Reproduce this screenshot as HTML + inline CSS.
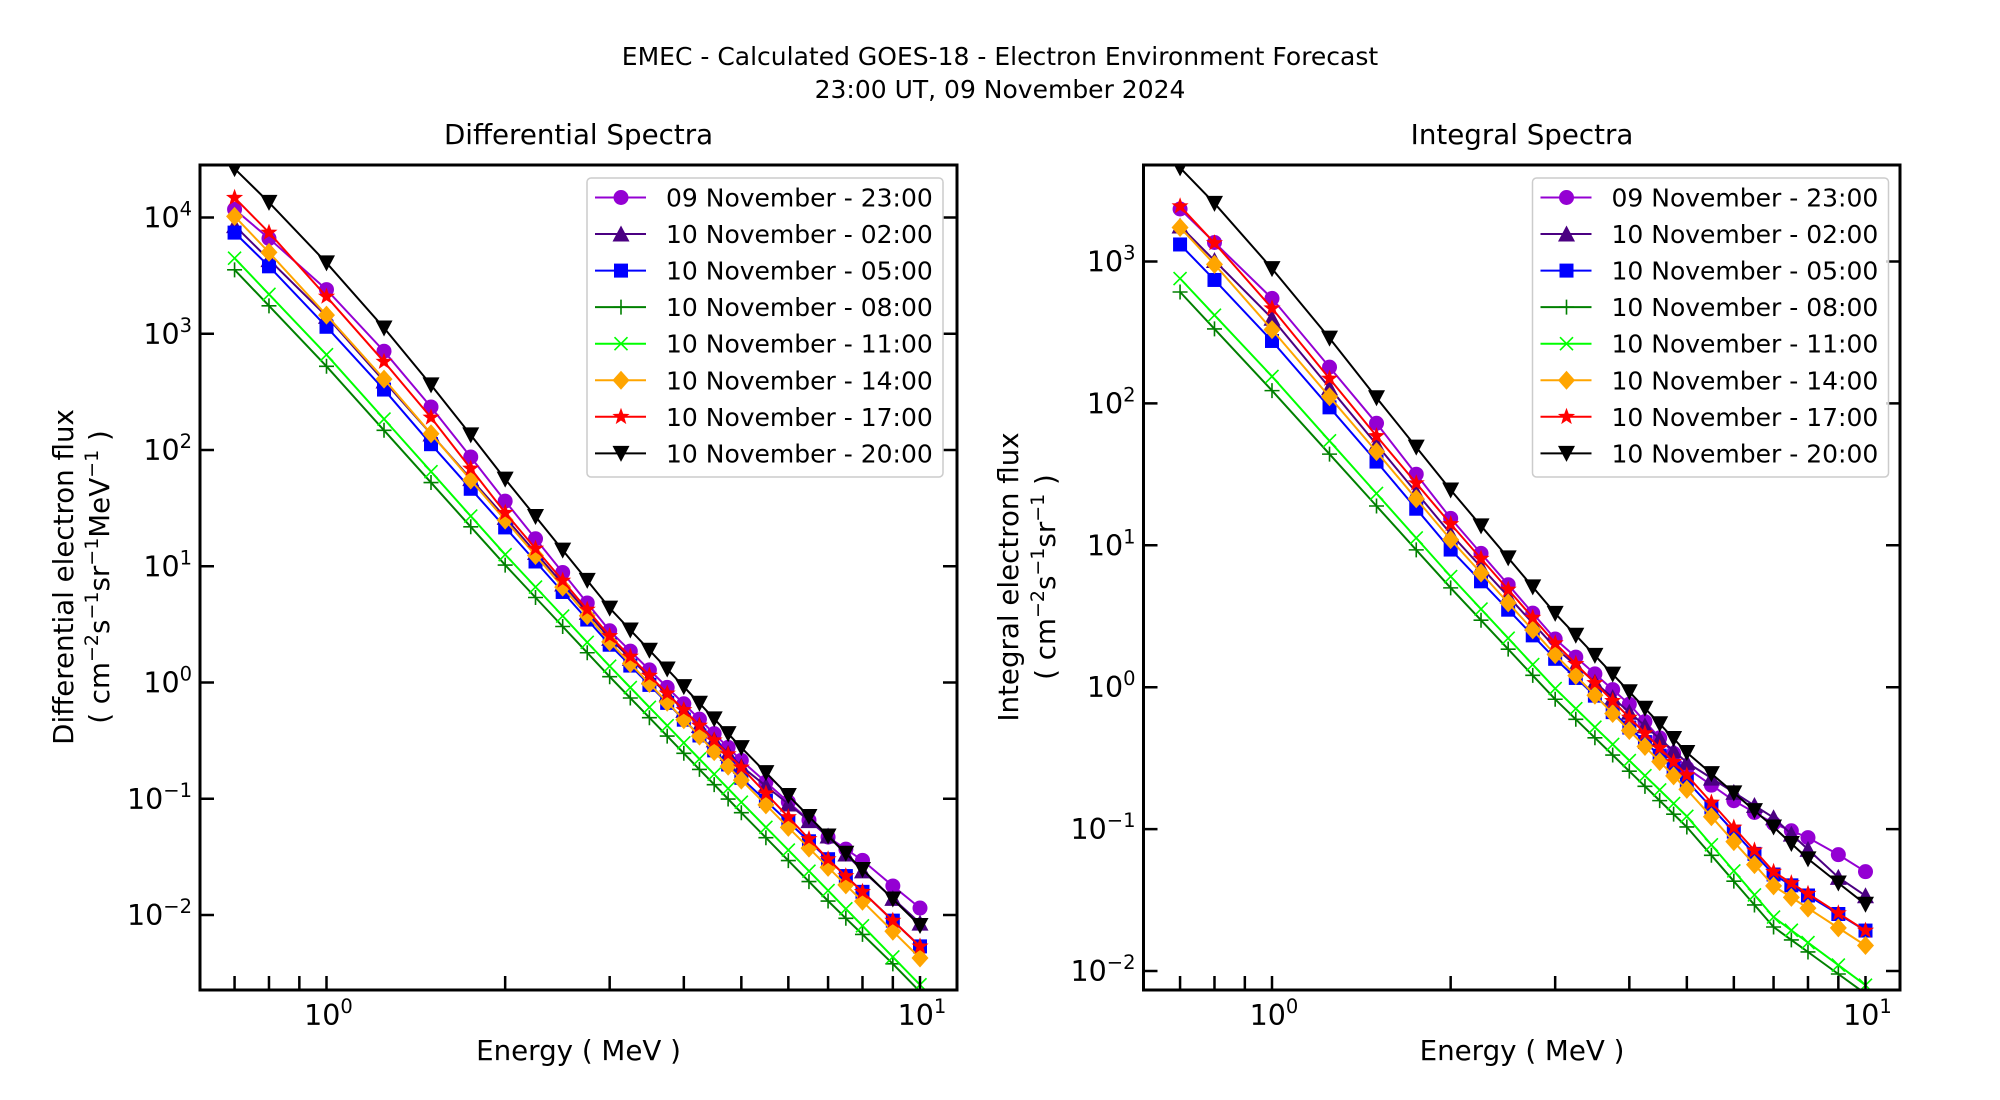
<!DOCTYPE html>
<html><head><meta charset="utf-8"><style>
html,body{margin:0;padding:0;background:#fff;}
svg{display:block;}
text{font-family:"DejaVu Sans","Liberation Sans",sans-serif;fill:#000;}
</style></head><body>
<svg id="s" width="2000" height="1100" viewBox="0 0 2000 1100" xmlns="http://www.w3.org/2000/svg">
<text x="1000" y="65" font-size="25" text-anchor="middle">EMEC - Calculated GOES-18 - Electron Environment Forecast</text>
<text x="1000" y="98" font-size="25" text-anchor="middle">23:00 UT, 09 November 2024</text>
<text x="578.5" y="144" font-size="27.7" text-anchor="middle">Differential Spectra</text>
<text x="1522" y="144" font-size="27.7" text-anchor="middle">Integral Spectra</text>
<text x="578.5" y="1060" font-size="27.7" text-anchor="middle">Energy ( MeV )</text>
<text x="1522" y="1060" font-size="27.7" text-anchor="middle">Energy ( MeV )</text>
<text transform="translate(73,577) rotate(-90)" font-size="27.7" text-anchor="middle">Differential electron flux</text>
<text transform="translate(109,577) rotate(-90)" font-size="27.7" text-anchor="middle">( cm<tspan font-size="19" dy="-11">−2</tspan><tspan dy="11">s</tspan><tspan font-size="19" dy="-11">−1</tspan><tspan dy="11">sr</tspan><tspan font-size="19" dy="-11">−1</tspan><tspan dy="11">MeV</tspan><tspan font-size="19" dy="-11">−1</tspan><tspan dy="11"> )</tspan></text>
<text transform="translate(1018,577) rotate(-90)" font-size="27.7" text-anchor="middle">Integral electron flux</text>
<text transform="translate(1055,577) rotate(-90)" font-size="27.7" text-anchor="middle">( cm<tspan font-size="19" dy="-11">−2</tspan><tspan dy="11">s</tspan><tspan font-size="19" dy="-11">−1</tspan><tspan dy="11">sr</tspan><tspan font-size="19" dy="-11">−1</tspan><tspan dy="11"> )</tspan></text>
</svg>
<script>
var NS="http://www.w3.org/2000/svg",S=document.getElementById("s");
function el(t,a,p){var e=document.createElementNS(NS,t);for(var k in a)e.setAttribute(k,a[k]);(p||S).appendChild(e);return e;}
var E=[0.7,0.8,1,1.25,1.5,1.75,2,2.25,2.5,2.75,3,3.25,3.5,3.75,4,4.25,4.5,4.75,5,5.5,6,6.5,7,7.5,8,9,10];
var cols=["#9400D3","#4B0082","#0000FF","#008000","#00FF00","#FFA500","#FF0000","#000000"];
var mk=["o","^","s","+","x","D","*","v"];
var names=["09 November - 23:00","10 November - 02:00","10 November - 05:00","10 November - 08:00","10 November - 11:00","10 November - 14:00","10 November - 17:00","10 November - 20:00"];
var D=[
[[.7,4.07],[.8,3.82],[1,3.38],[1.25,2.85],[1.5,2.37],[1.75,1.94],[2,1.56],[3,.445],[5,-.67],[7,-1.33],[8,-1.53],[9,-1.75],[10,-1.94]],
[[.7,3.93],[1,3.15],[2,1.42],[3,.38],[5,-.72],[7,-1.32],[8,-1.62],[10,-2.07]],
[[.7,3.87],[.8,3.58],[1,3.06],[1.25,2.52],[1.5,2.05],[3,.325],[5,-.82],[7,-1.52],[10,-2.27]],
[[.7,3.55],[.8,3.24],[1,2.72],[1.5,1.72],[2,1.01],[3,.05],[5,-1.12],[7,-1.88],[9,-2.42],[10,-2.66]],
[[.7,3.65],[1,2.82],[2,1.10],[3,.14],[5,-1.03],[7,-1.79],[10,-2.60]],
[[.7,4.01],[.8,3.70],[1,3.16],[1.25,2.61],[1.5,2.14],[3,.35],[5,-.84],[7,-1.59],[10,-2.37]],
[[.7,4.17],[.8,3.87],[1,3.32],[1.25,2.76],[1.5,2.28],[2,1.46],[3,.40],[5,-.73],[7,-1.52],[10,-2.27]],
[[.7,4.42],[.8,4.13],[1,3.61],[1.25,3.05],[1.5,2.56],[1.75,2.13],[2,1.75],[3,.64],[5,-.56],[7,-1.32],[10,-2.09]]];
var I=[
[[.7,3.37],[1,2.74],[1.5,1.86],[2,1.19],[3,.34],[4,-.12],[5,-.57],[6,-.80],[7,-.96],[8,-1.06],[9,-1.18],[10,-1.30]],
[[.7,3.25],[1,2.6],[2,1.08],[3,.28],[5,-.53],[7,-.92],[9,-1.34],[10,-1.47]],
[[.7,3.12],[.8,2.87],[1,2.44],[1.5,1.59],[2,.97],[3,.2],[5,-.66],[7,-1.32],[10,-1.715]],
[[.7,2.785],[1,2.09],[2,.70],[3,-.085],[5,-.985],[7,-1.69],[10,-2.16]],
[[.7,2.88],[1,2.19],[2,.78],[3,-.01],[5,-.91],[7,-1.62],[10,-2.10]],
[[.7,3.24],[.8,2.98],[1,2.52],[1.5,1.66],[2,1.04],[3,.23],[5,-.72],[7,-1.40],[10,-1.82]],
[[.7,3.39],[.8,3.13],[1,2.67],[1.5,1.77],[2,1.15],[3,.31],[5,-.62],[7,-1.30],[10,-1.715]],
[[.7,3.66],[.8,3.41],[1,2.95],[1.25,2.46],[1.5,2.04],[2,1.39],[3,.52],[5,-.46],[7,-.985],[8,-1.21],[9,-1.38],[10,-1.53]]];
function interp(a,e){var l=Math.log10(e);for(var i=0;i<a.length-1;i++){var l0=Math.log10(a[i][0]),l1=Math.log10(a[i+1][0]);if(l<=l1+1e-9){return a[i][1]+(a[i+1][1]-a[i][1])*(l-l0)/(l1-l0);}}return a[a.length-1][1];}
function marker(g,t,x,y,c){
 if(t=="o")el("circle",{cx:x,cy:y,r:7.5,fill:c},g);
 else if(t=="s")el("rect",{x:x-7,y:y-7,width:14,height:14,fill:c},g);
 else if(t=="^")el("polygon",{points:x+","+(y-8.5)+" "+(x+8.5)+","+(y+7.5)+" "+(x-8.5)+","+(y+7.5),fill:c},g);
 else if(t=="v")el("polygon",{points:x+","+(y+8.5)+" "+(x+8.5)+","+(y-7.5)+" "+(x-8.5)+","+(y-7.5),fill:c},g);
 else if(t=="D")el("polygon",{points:x+","+(y-9.5)+" "+(x+8.5)+","+y+" "+x+","+(y+9.5)+" "+(x-8.5)+","+y,fill:c},g);
 else if(t=="+")el("path",{d:"M"+(x-7.5)+" "+y+"H"+(x+7.5)+"M"+x+" "+(y-7.5)+"V"+(y+7.5),stroke:c,"stroke-width":1.6},g);
 else if(t=="x")el("path",{d:"M"+(x-6.5)+" "+(y-6.5)+"L"+(x+6.5)+" "+(y+6.5)+"M"+(x-6.5)+" "+(y+6.5)+"L"+(x+6.5)+" "+(y-6.5),stroke:c,"stroke-width":1.6},g);
 else if(t=="*"){var p=[];for(var k=0;k<10;k++){var r=k%2?3.7:9,a=-Math.PI/2+k*Math.PI/5;p.push((x+r*Math.cos(a)).toFixed(1)+","+(y+r*Math.sin(a)).toFixed(1));}el("polygon",{points:p.join(" "),fill:c},g);}
}
function lab(x,y,exp,anchor){var t=el("text",{x:x,y:y,"font-size":28.5,"text-anchor":anchor});t.textContent="10";var ts=el("tspan",{"font-size":19.5,dy:-12},t);ts.textContent=exp;}
function panel(id,x0,x1,y0,y1,xc,yc,dec,ytop,yt,data,lx){
 var xp=function(e){return xc+Math.log10(e)*593.5;},yp=function(l){return yc+(ytop-l)*dec;};
 var cp=el("clipPath",{id:id});el("rect",{x:x0,y:y0,width:x1-x0,height:y1-y0},cp);
 var g=el("g",{"clip-path":"url(#"+id+")"});
 for(var s=0;s<8;s++){var pts=[];for(var i=0;i<E.length;i++){pts.push([xp(E[i]),yp(interp(data[s],E[i]))]);}
  el("polyline",{points:pts.map(function(p){return p[0].toFixed(1)+","+p[1].toFixed(1);}).join(" "),fill:"none",stroke:cols[s],"stroke-width":2},g);
  for(var i=0;i<pts.length;i++)marker(g,mk[s],pts[i][0],pts[i][1],cols[s]);}
 var d="";
 for(var i=0;i<yt.length;i++){var y=yp(yt[i]);d+="M"+x0+" "+y+"h14M"+x1+" "+y+"h-14";
  lab(x0-8,y+10,(yt[i]<0?"−":"")+Math.abs(yt[i]),"end");}
 var xt=[0.7,0.8,0.9,1,2,3,4,5,6,7,8,9,10];
 for(var i=0;i<xt.length;i++){var x=xp(xt[i]);d+="M"+x+" "+y1+"v-14";}
 lab(xp(1)+2,1025,"0","middle");lab(xp(10)+2,1025,"1","middle");
 el("path",{d:d,stroke:"#000","stroke-width":2.5,fill:"none"});
 el("rect",{x:x0,y:y0,width:x1-x0,height:y1-y0,fill:"none",stroke:"#000","stroke-width":3});
 el("rect",{x:lx,y:178,width:356,height:299,rx:4,fill:"#fff","fill-opacity":0.8,stroke:"#ccc","stroke-width":1.5});
 for(var s=0;s<8;s++){var y=197.5+s*36.55;
  el("line",{x1:lx+8,y1:y,x2:lx+59,y2:y,stroke:cols[s],"stroke-width":2});
  var g2=el("g",{});marker(g2,mk[s],lx+34,y,cols[s]);
  var t=el("text",{x:lx+79,y:y+9,"font-size":25});t.textContent=names[s];}
}
panel("c1",200,957,165,990,326.5,217.5,116.25,4,[4,3,2,1,0,-1,-2],D,587);
panel("c2",1143.5,1900,165,990,1272,261.5,141.9,3,[3,2,1,0,-1,-2],I,1532.5);
</script>
</body></html>
